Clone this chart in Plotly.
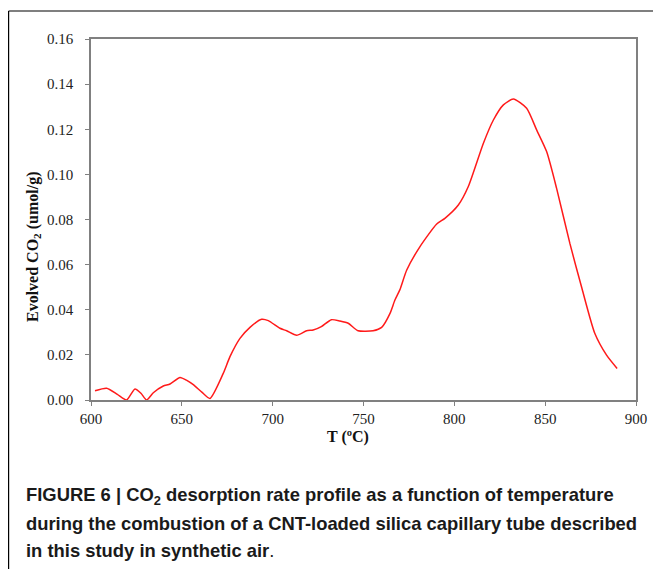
import plotly.graph_objects as go

temperature = [602.2, 608.6, 614.5, 619.6, 624.2, 627.5, 630.6, 634.3, 639.8, 643.5, 649.0, 652.5, 656.3,
               661.0, 665.5, 672.8, 676.5, 682.0, 687.5, 693.9, 697.6, 704.0, 707.7, 713.2, 718.7,
               722.3, 726.8, 732.3, 737.0, 741.6, 747.0, 755.3, 760.0, 764.6, 767.3, 770.0, 773.8,
               781.1, 790.3, 794.8, 802.2, 807.7, 816.0, 821.5, 827.0, 832.5, 839.8, 845.3,
               850.8, 856.3, 863.6, 870.0, 877.3, 883.8, 889.6]
evolved_co2 = [0.0041, 0.0052, 0.0025, 0.0000, 0.0049, 0.0030, 0.0000, 0.0032, 0.0062, 0.0071, 0.0100, 0.0088, 0.0068,
               0.0035, 0.0007, 0.0118, 0.0192, 0.0273, 0.0322, 0.0358, 0.0352, 0.0318, 0.0307, 0.0287, 0.0307,
               0.0310, 0.0325, 0.0356, 0.0350, 0.0340, 0.0307, 0.0307, 0.0322, 0.0384, 0.0443, 0.0488, 0.0576,
               0.0680, 0.0780, 0.0805, 0.0864, 0.0946, 0.1138, 0.1241, 0.1308, 0.1334, 0.1293, 0.1197,
               0.1101, 0.0938, 0.0694, 0.0502, 0.0296, 0.0199, 0.0140]

x_ticks = [600, 650, 700, 750, 800, 850, 900]
y_ticks = [0.00, 0.02, 0.04, 0.06, 0.08, 0.10, 0.12, 0.14, 0.16]

# figure geometry (page body has an 8px margin)
W, H = 653, 561
L, R, T, B = 83, 25, 31, 169
PW, PH = W - L - R, H - T - B


def px(wx):
    return (wx - 8 - L) / PW


def py(wy):
    return (H - B - (wy - 8)) / PH


fig = go.Figure()
fig.add_trace(go.Scatter(x=temperature, y=evolved_co2, mode="lines",
                         line=dict(color="#ff1a1a", width=1.5, shape="spline", smoothing=0.6),
                         showlegend=False, hoverinfo="x+y"))

serif = "Liberation Serif, Times New Roman, serif"
axis_common = dict(showline=True, linecolor="#808080", linewidth=1.5, mirror=True,
                   ticks="outside", ticklen=4, tickcolor="#808080", tickwidth=1,
                   showgrid=False, zeroline=False,
                   tickfont=dict(family=serif, size=15, color="#222"))

fig.update_xaxes(range=[600, 900], tickvals=x_ticks, ticktext=[str(v) for v in x_ticks],
                 ticklabelstandoff=0, **axis_common)
fig.update_yaxes(range=[0, 0.16], tickvals=y_ticks, ticktext=[f"{v:.2f}" for v in y_ticks],
                 ticklabelstandoff=9, **axis_common)

title_font = dict(family=serif, size=16, color="#111")
fig.add_annotation(text="<b>Evolved CO<sub>2</sub> (umol/g)</b>", xref="paper", yref="paper",
                   x=px(33), y=py(247), textangle=-90, showarrow=False,
                   xanchor="center", yanchor="middle", font=title_font)
fig.add_annotation(text="<b>T (ºC)</b>", xref="paper", yref="paper",
                   x=px(348), y=py(437), showarrow=False,
                   xanchor="center", yanchor="middle", font=title_font)

# Frame lines (top and left)
fig.add_shape(type="line", xref="paper", yref="paper", x0=px(8.6), x1=px(680), y0=py(11), y1=py(11),
              line=dict(color="black", width=1.2))
fig.add_shape(type="line", xref="paper", yref="paper", x0=px(8.6), x1=px(8.6), y0=py(11), y1=py(600),
              line=dict(color="black", width=1.2))

cap_font = dict(family="Liberation Sans Narrow, Arial Narrow, Liberation Sans, Arial, sans-serif", size=18.4, color="#1a1a1a")
lines = [
    ("<b>FIGURE 6 | CO<sub>2</sub> desorption rate profile as a function of temperature</b>", 496),
    ("<b>during the combustion of a CNT-loaded silica capillary tube described</b>", 523),
    ("<b>in this study in synthetic air</b>.", 550),
]
for txt, ypx in lines:
    fig.add_annotation(text=txt, xref="paper", yref="paper",
                       x=px(24), y=py(ypx),
                       xanchor="left", yanchor="middle", showarrow=False, font=cap_font)

fig.update_layout(width=W, height=H, margin=dict(l=L, r=R, t=T, b=B),
                  paper_bgcolor="white", plot_bgcolor="white")

fig.write_html("out.html")
